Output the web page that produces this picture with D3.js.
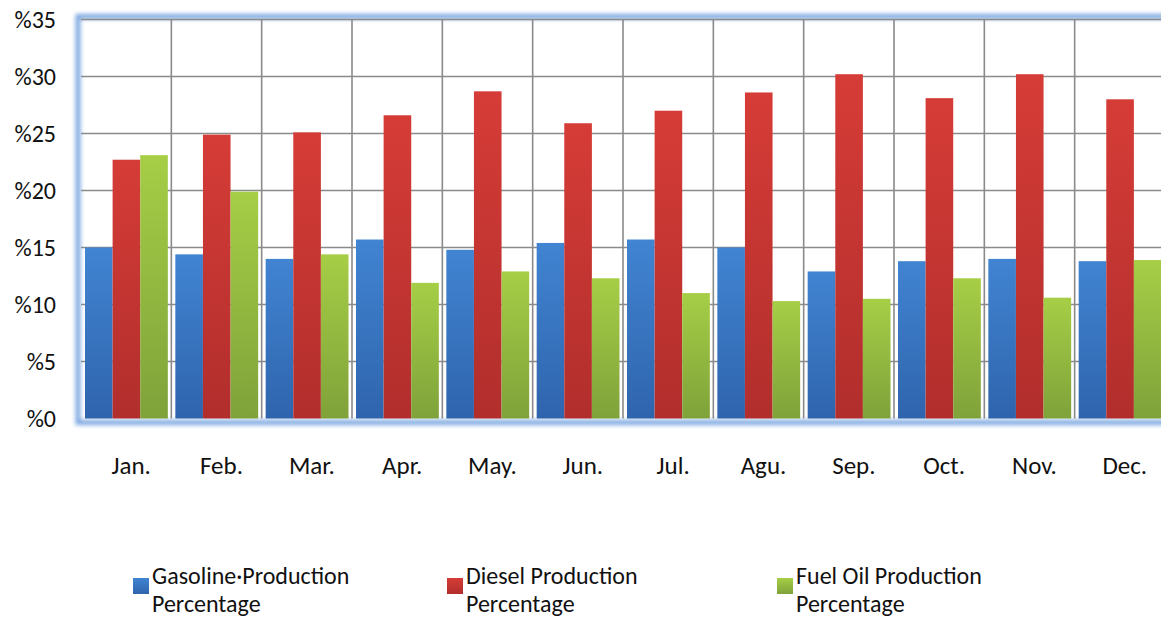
<!DOCTYPE html>
<meta charset="utf-8">
<title>Production Percentage</title>
<script src="https://d3js.org/d3.v7.min.js"></script>
<style>
  body { margin: 0; background: #fff; }
  text { font-family: Carlito, Calibri, Lato, sans-serif; fill: #111; font-weight: 400; }
</style>
<div id="chart"></div>
<script>

// data
var months = ["Jan.", "Feb.", "Mar.", "Apr.", "May.", "Jun.", "Jul.", "Agu.", "Sep.", "Oct.", "Nov.", "Dec."];
var gasoline = [15.0, 14.4, 14.0, 15.7, 14.8, 15.4, 15.7, 15.0, 12.9, 13.8, 14.0, 13.8];
var diesel   = [22.7, 24.9, 25.1, 26.6, 28.7, 25.9, 27.0, 28.6, 30.2, 28.1, 30.2, 28.0];
var fuelOil  = [23.1, 19.9, 14.4, 11.9, 12.9, 12.3, 11.0, 10.3, 10.5, 12.3, 10.6, 13.9];
var seriesNames = ["Gasoline\u00B7Production Percentage", "Diesel Production Percentage", "Fuel Oil Production Percentage"];
var yTicks = [0, 5, 10, 15, 20, 25, 30, 35];

var width = 1161, height = 619;
var plot = {left: 81, right: 1165, top: 19.5, bottom: 418.5};

var svg = d3.select("#chart")
  .append("svg")
    .attr("width", width)
    .attr("height", height);

var defs = svg.append("defs");

// bar gradients (lighter top, darker bottom)
var grads = [
  {id: "gBlue",  top: "#4184d2", bot: "#2f64ad"},
  {id: "gRed",   top: "#d63c37", bot: "#b12e2c"},
  {id: "gGreen", top: "#a6ce46", bot: "#7fa23a"}
];
grads.forEach(function(g) {
  var lg = defs.append("linearGradient").attr("id", g.id)
    .attr("x1", 0).attr("y1", 0).attr("x2", 0).attr("y2", 1);
  lg.append("stop").attr("offset", "0%").attr("stop-color", g.top);
  lg.append("stop").attr("offset", "100%").attr("stop-color", g.bot);
});

var blur = defs.append("filter").attr("id", "glow")
  .attr("x", "-5%").attr("y", "-5%").attr("width", "110%").attr("height", "110%");
blur.append("feGaussianBlur").attr("stdDeviation", 2.2);

// scales
var x0 = d3.scaleBand()
  .domain(months)
  .range([plot.left, plot.right])
  .padding(0);

var x1 = d3.scaleBand()
  .domain([0, 1, 2])
  .range([4, x0.bandwidth() - 3.5])
  .padding(0);

var y = d3.scaleLinear()
  .domain([0, 35])
  .range([plot.bottom, plot.top]);

// blue glowing frame of the plot area
svg.append("rect")
  .attr("x", plot.left - 3)
  .attr("y", plot.top - 3)
  .attr("width", plot.right - plot.left + 10)
  .attr("height", plot.bottom - plot.top + 7)
  .attr("fill", "none")
  .attr("stroke", "#7aa7e0")
  .attr("stroke-width", 5)
  .attr("filter", "url(#glow)");

// gridlines
svg.append("g")
  .selectAll("line")
  .data(yTicks.filter(function(d) { return d > 0; }))
  .enter()
  .append("line")
    .attr("x1", plot.left)
    .attr("x2", plot.right)
    .attr("y1", function(d) { return y(d); })
    .attr("y2", function(d) { return y(d); })
    .attr("stroke", "#8a8a8a")
    .attr("stroke-width", 1.6);

svg.append("g")
  .selectAll("line")
  .data(months.slice(1))
  .enter()
  .append("line")
    .attr("x1", function(d) { return x0(d); })
    .attr("x2", function(d) { return x0(d); })
    .attr("y1", plot.top)
    .attr("y2", plot.bottom)
    .attr("stroke", "#8a8a8a")
    .attr("stroke-width", 1.6);

// bars
var series = [gasoline, diesel, fuelOil];
var fills = ["url(#gBlue)", "url(#gRed)", "url(#gGreen)"];

var groups = svg.append("g")
  .selectAll("g")
  .data(months)
  .enter()
  .append("g")
    .attr("transform", function(d) { return "translate(" + x0(d) + ",0)"; });

groups.selectAll("rect")
  .data(function(d, i) { return series.map(function(s, k) { return {k: k, v: s[i]}; }); })
  .enter()
  .append("rect")
    .attr("x", function(d) { return x1(d.k); })
    .attr("width", x1.bandwidth())
    .attr("y", function(d) { return y(d.v); })
    .attr("height", function(d) { return y(0) - y(d.v); })
    .attr("fill", function(d) { return fills[d.k]; });

// left and bottom axis glow again over the bars' edge
svg.append("line")
  .attr("x1", plot.left - 2).attr("x2", plot.left - 2)
  .attr("y1", plot.top - 4).attr("y2", plot.bottom + 5)
  .attr("stroke", "#7aa7e0")
  .attr("stroke-width", 5)
  .attr("filter", "url(#glow)");
svg.append("line")
  .attr("x1", plot.left - 3).attr("x2", plot.right)
  .attr("y1", plot.bottom + 3).attr("y2", plot.bottom + 3)
  .attr("stroke", "#7aa7e0")
  .attr("stroke-width", 5)
  .attr("filter", "url(#glow)");

// y labels
svg.append("g")
  .selectAll("text")
  .data(yTicks)
  .enter()
  .append("text")
    .attr("x", 56)
    .attr("y", function(d) { return y(d); })
    .attr("dy", "0.35em")
    .attr("text-anchor", "end")
    .style("font-size", "24px")
    .text(function(d) { return "%" + d; });

// x labels
svg.append("g")
  .selectAll("text")
  .data(months)
  .enter()
  .append("text")
    .attr("x", function(d) { return x0(d) + x0.bandwidth() / 2 + 5; })
    .attr("y", 474)
    .attr("text-anchor", "middle")
    .style("font-size", "25px")
    .text(function(d) { return d; });

// legend
var legendX = [133, 447, 777];
var legendFill = ["url(#gBlue)", "url(#gRed)", "url(#gGreen)"];

var legend = svg.append("g")
  .selectAll("g")
  .data(seriesNames)
  .enter()
  .append("g")
    .attr("transform", function(d, i) { return "translate(" + legendX[i] + ",0)"; });

legend.append("rect")
  .attr("x", 0)
  .attr("y", 578)
  .attr("width", 16)
  .attr("height", 16)
  .attr("fill", function(d, i) { return legendFill[i]; });

legend.append("text")
  .style("font-size", "24px")
  .each(function(d) {
    var parts = d.split(" Percentage");
    var t = d3.select(this);
    t.append("tspan").attr("x", 19).attr("y", 584).text(parts[0]);
    t.append("tspan").attr("x", 19).attr("y", 612).text("Percentage");
  });

</script>
